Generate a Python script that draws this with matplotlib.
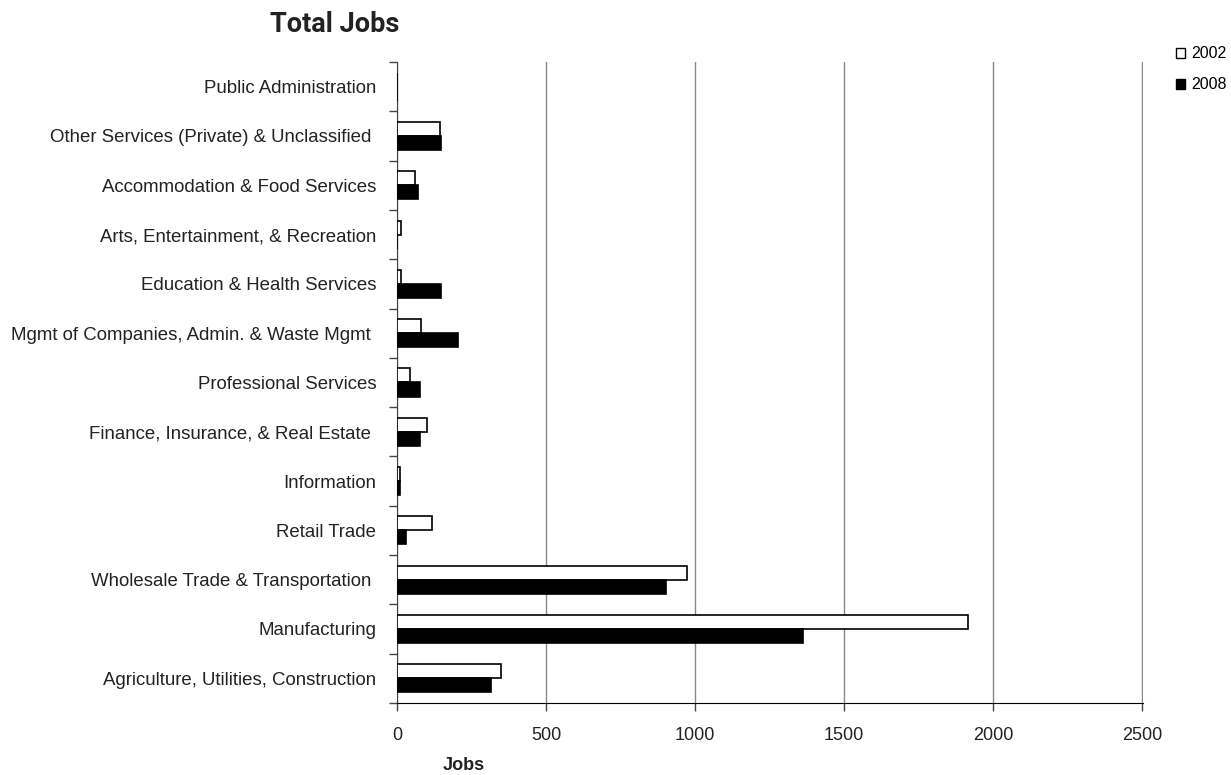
import matplotlib
matplotlib.use("Agg")
import matplotlib.pyplot as plt
import numpy as np
from matplotlib.patches import Patch

plt.rcParams.update({
    'font.family': ['Liberation Sans', 'DejaVu Sans'],
    'font.size': 13,
})

# categories from bottom to top
categories = [
    "Agriculture, Utilities, Construction",
    "Manufacturing",
    "Wholesale Trade & Transportation ",
    "Retail Trade",
    "Information",
    "Finance, Insurance, & Real Estate ",
    "Professional Services",
    "Mgmt of Companies, Admin. & Waste Mgmt ",
    "Education & Health Services",
    "Arts, Entertainment, & Recreation",
    "Accommodation & Food Services",
    "Other Services (Private) & Unclassified ",
    "Public Administration",
]
jobs_2002 = [350, 1916, 973, 118, 10, 100, 45, 80, 15, 12, 60, 143, 0]
jobs_2008 = [315, 1362, 903, 30, 10, 78, 78, 205, 148, 0, 70, 148, 0]
x_ticks = [0, 500, 1000, 1500, 2000, 2500]

fig = plt.figure(figsize=(12.31, 7.75), dpi=100)
ax = fig.add_axes([0.3225, 0.093, 0.606, 0.827])

y = np.arange(len(categories))
h = 0.285
ax.barh(y + h / 2, jobs_2002, height=h, color='white', edgecolor='black',
        linewidth=1.2, label='2002', zorder=3)
ax.barh(y - h / 2, jobs_2008, height=h, color='black', edgecolor='black',
        linewidth=1.2, label='2008', zorder=3)

ax.set_ylim(-0.5, len(categories) - 0.5)
ax.set_xlim(0, 2503)
ax.set_xticks(x_ticks)
ax.set_xticklabels([str(t) for t in x_ticks], fontsize=13, color='#222222')
ax.xaxis.grid(True, color='#888888', linewidth=1, zorder=0)

ax.set_yticks(y)
ax.set_yticklabels(categories, fontsize=13.4, color='#222222')
ax.tick_params(axis='y', length=0, pad=15)
ax.set_yticks(np.arange(-0.5, len(categories), 1), minor=True)
ax.tick_params(axis='y', which='minor', length=6, width=1, color='#444444')
ax.tick_params(axis='x', length=6, width=1, color='#444444', pad=11)

for side in ['top', 'right']:
    ax.spines[side].set_visible(False)
ax.spines['left'].set_color('#444444')
ax.spines['bottom'].set_color('black')

fig.text(0.219, 0.969, "Total Jobs", fontsize=19.5, fontweight='bold',
         family='Roboto', color='#222222', va='center')
fig.text(0.377, 0.012, "Jobs", fontsize=13, fontweight='bold',
         ha='center', va='center', color='#222222')

handles = [Patch(facecolor='white', edgecolor='black', label='2002'),
           Patch(facecolor='black', edgecolor='black', label='2008')]
fig.legend(handles=handles, loc='upper left', bbox_to_anchor=(0.955, 0.940),
           frameon=False, fontsize=11.5, handlelength=0.6, handleheight=0.6,
           handletextpad=0.35, labelspacing=1.0, borderpad=0,
           borderaxespad=0)

fig.savefig("out.png", dpi=100)
